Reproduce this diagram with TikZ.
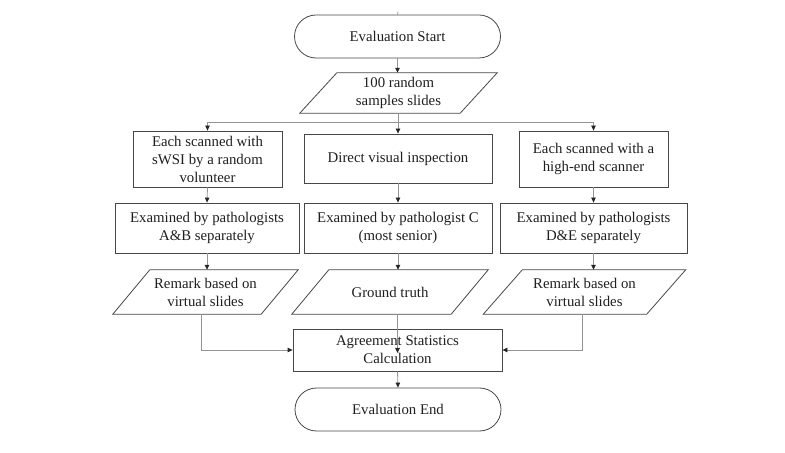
\documentclass[tikz,border=0pt]{standalone}
\usepackage{fontspec}
\setmainfont{Liberation Serif}
\usetikzlibrary{arrows.meta,shapes.misc,calc}
\newcommand\pgram[7]{% name, cx, cy, w, h, halfslant, text
  \node[minimum width=#4bp, minimum height=#5bp] (#1) at (#2,#3) {#7};
  \draw[shapeline] ([xshift=#6bp]#1.north west) -- ([xshift=#6bp]#1.north east)
    -- ([xshift=-#6bp]#1.south east) -- ([xshift=-#6bp]#1.south west) -- cycle;
}
\begin{document}
\begin{tikzpicture}[x=1bp,y=-1bp,
  every node/.style={font=\fontsize{14.8bp}{18bp}\selectfont, align=center, inner sep=0pt, text=black!88},
  shapeline/.style={draw=black!72, line width=0.8bp},
  box/.style={shapeline, rectangle},
  term/.style={shapeline, rounded rectangle, minimum width=206bp, minimum height=43bp},
  conn/.style={draw=black!42, line width=0.8bp},
  arr/.style={conn, -{Triangle[length=5bp,width=4.5bp,color=black!85]}}
]
\useasboundingbox (0,0) rectangle (785,453);

\node[term] (start) at (397.5,36.5) {Evaluation Start};
\pgram{p0}{398.5}{93}{160}{40}{18.5}{100 random\\samples slides}

\node[box, minimum width=149bp, minimum height=56bp] (L1) at (207.5,159) {Each scanned with\\sWSI by a random\\volunteer};
\node[box, minimum width=188bp, minimum height=49bp] (C1) at (398,158.5) {Direct visual inspection};
\node[box, minimum width=149bp, minimum height=56bp] (R1) at (593.5,159) {Each scanned with a\\high-end scanner};

\node[box, minimum width=184bp, minimum height=50bp] (L2) at (207,228) {Examined by pathologists\\A\&B separately};
\node[box, minimum width=188bp, minimum height=50bp] (C2) at (398,228) {Examined by pathologist C\\(most senior)};
\node[box, minimum width=187bp, minimum height=50bp] (R2) at (593.5,228) {Examined by pathologists\\D\&E separately};

\pgram{L3}{205.5}{292}{148}{44}{18.5}{Remark based on\\virtual slides}
\pgram{C3}{390}{292}{159}{44}{18.5}{Ground truth}
\pgram{R3}{584.5}{292}{163}{44}{19.5}{Remark based on\\virtual slides}

\node[box, minimum width=209bp, minimum height=42bp] (agree) at (397.5,350) {Agreement Statistics\\Calculation};
\node[term] (end) at (398,409.5) {Evaluation End};

% connectors
\coordinate (top) at (398,12);
\coordinate (br) at (398,122);
\draw[conn] (top) -- (start.north);
\draw[arr] (start.south) -- (start.south |- p0.north);
\draw[conn] (p0.south -| br) -- (br);
\draw[arr] (br) -| (L1.north);
\draw[arr] (br) -| (R1.north);
\draw[arr] (br) -- (C1.north);

\draw[arr] (L1.south) -- (L2.north);
\draw[arr] (C1.south) -- (C2.north);
\draw[arr] (R1.south) -- (R2.north);

\draw[arr] (L2.south) -- (L2.south |- L3.north);
\draw[arr] (C2.south) -- (C2.south |- C3.north);
\draw[arr] (R2.south) -- (R2.south |- R3.north);

\draw[arr] ([xshift=-4.5bp]L3.south) |- (agree.west);
\draw[arr] ([xshift=-2.5bp]R3.south) |- (agree.east);
\draw[arr] (C3.south -| agree.center) -- ([yshift=-3bp]agree.center);
\draw[arr] (agree.south) -- (end.north);
\end{tikzpicture}
\end{document}
